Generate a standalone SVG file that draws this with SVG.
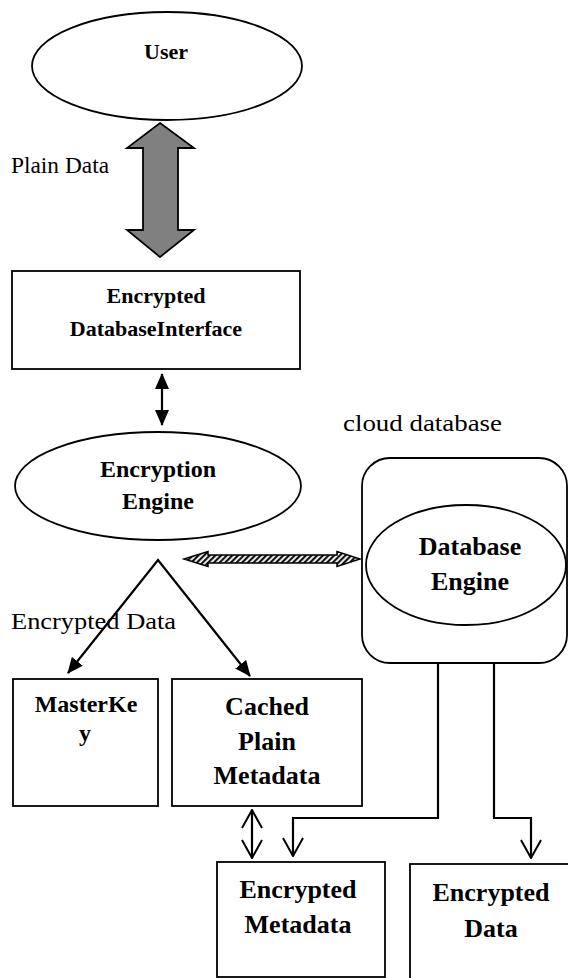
<svg xmlns="http://www.w3.org/2000/svg" width="568" height="978" viewBox="0 0 568 978">
  <style>
    .shape { fill: #ffffff; stroke: #000000; stroke-width: 1.8; }
    .lbl { font-family: "Liberation Serif", "Times New Roman", serif; font-weight: bold; fill: #000000; text-anchor: middle; }
    .plain { font-family: "Liberation Serif", "Times New Roman", serif; font-size: 24px; fill: #000000; }
    .wire { fill: none; stroke: #000000; stroke-width: 2.2; }
  </style>
  <defs>
    <marker id="solid" viewBox="0 0 16 14" refX="15" refY="7" markerWidth="16" markerHeight="14" markerUnits="userSpaceOnUse" orient="auto-start-reverse">
      <path d="M0,0 L16,7 L0,14 Z" fill="#000000"/>
    </marker>
    <marker id="open" viewBox="0 0 20 22" refX="19" refY="11" markerWidth="20" markerHeight="22" markerUnits="userSpaceOnUse" orient="auto-start-reverse">
      <path d="M1,1 L19,11 L1,21" fill="none" stroke="#000000" stroke-width="2"/>
    </marker>
    <pattern id="hatch" width="4" height="4" patternUnits="userSpaceOnUse" patternTransform="rotate(45)">
      <rect width="4" height="4" fill="#ffffff"/>
      <rect width="2.2" height="4" fill="#111111"/>
    </pattern>
  </defs>

  <!-- labels outside nodes -->
  <text class="plain" x="11" y="173" textLength="98" lengthAdjust="spacingAndGlyphs">Plain Data</text>
  <text class="plain" x="343" y="431" textLength="159" lengthAdjust="spacingAndGlyphs">cloud database</text>
  <text class="plain" x="11" y="629" textLength="165" lengthAdjust="spacingAndGlyphs">Encrypted Data</text>

  <g id="connectors">
    <!-- plain data flow between user and interface -->
    <polygon points="160,123 194,148 178,148 178,230 194,230 160,257 127,230 143,230 143,148 127,148" fill="#808080" stroke="#000000" stroke-width="1.8"/>
    <!-- interface to encryption engine -->
    <line class="wire" x1="162" y1="374" x2="162" y2="425" marker-start="url(#solid)" marker-end="url(#solid)"/>
    <!-- encryption engine to database engine -->
    <polygon points="184,559 208,551.5 208,555 337,555 337,551.5 360,559 337,566.5 337,563 208,563 208,566.5" fill="url(#hatch)" stroke="#000000" stroke-width="1.5"/>
    <!-- encrypted data split -->
    <polyline class="wire" points="68,673 158,560 250,676" marker-start="url(#solid)" marker-end="url(#solid)"/>
    <!-- cached metadata to encrypted metadata -->
    <line class="wire" x1="252" y1="810" x2="252" y2="858" marker-start="url(#open)" marker-end="url(#open)"/>
    <!-- database engine outputs -->
    <polyline class="wire" points="438,663 438,818 293,818 293,856" marker-end="url(#open)"/>
    <polyline class="wire" points="494,663 494,818 531,818 531,858" marker-end="url(#open)"/>
  </g>

  <g id="user">
    <ellipse class="shape" cx="167" cy="66" rx="135" ry="54"/>
    <text class="lbl" x="166" y="59" font-size="22">User</text>
  </g>

  <g id="db-interface">
    <rect class="shape" x="12" y="271" width="288" height="98"/>
    <text class="lbl" x="156" y="303" font-size="22">Encrypted</text>
    <text class="lbl" x="156" y="336" font-size="22">DatabaseInterface</text>
  </g>

  <g id="encryption-engine">
    <ellipse class="shape" cx="158" cy="486" rx="143" ry="54"/>
    <text class="lbl" x="158" y="477" font-size="24">Encryption</text>
    <text class="lbl" x="158" y="509" font-size="24">Engine</text>
  </g>

  <g id="cloud-database">
    <rect class="shape" x="362" y="458" width="205" height="205" rx="28" ry="28"/>
  </g>

  <g id="database-engine">
    <ellipse class="shape" cx="466" cy="565" rx="100" ry="60"/>
    <text class="lbl" x="470" y="555" font-size="26">Database</text>
    <text class="lbl" x="470" y="590" font-size="26">Engine</text>
  </g>

  <g id="master-key">
    <rect class="shape" x="13" y="679" width="145" height="127"/>
    <text class="lbl" x="86" y="712" font-size="24">MasterKe</text>
    <text class="lbl" x="85" y="741" font-size="24">y</text>
  </g>

  <g id="cached-metadata">
    <rect class="shape" x="172" y="679" width="190" height="127"/>
    <text class="lbl" x="267" y="715" font-size="26">Cached</text>
    <text class="lbl" x="267" y="750" font-size="26">Plain</text>
    <text class="lbl" x="267" y="784" font-size="26">Metadata</text>
  </g>

  <g id="encrypted-metadata">
    <rect class="shape" x="217" y="862" width="168" height="115"/>
    <text class="lbl" x="298" y="898" font-size="26">Encrypted</text>
    <text class="lbl" x="298" y="933" font-size="26">Metadata</text>
  </g>

  <g id="encrypted-data">
    <rect class="shape" x="410" y="864" width="200" height="140"/>
    <text class="lbl" x="491" y="901" font-size="26">Encrypted</text>
    <text class="lbl" x="491" y="937" font-size="26">Data</text>
  </g>
</svg>
